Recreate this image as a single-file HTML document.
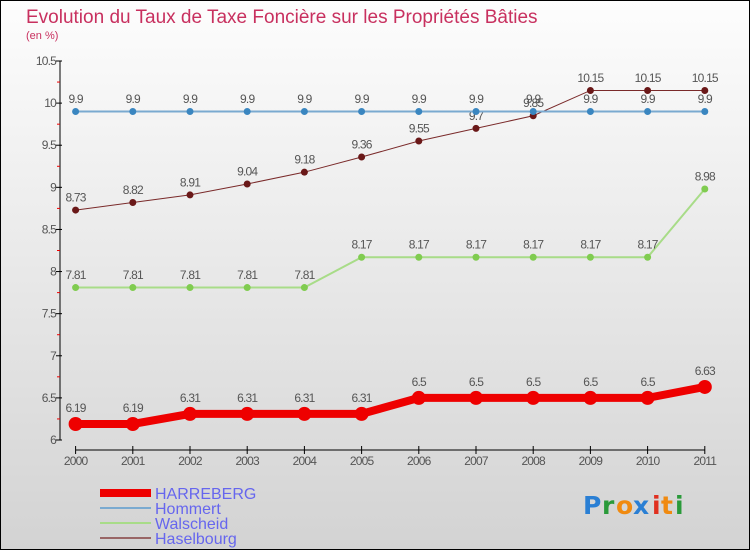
<!DOCTYPE html>
<html><head><meta charset="utf-8"><style>
body{margin:0;}
#wrap{width:750px;height:550px;position:relative;overflow:hidden;box-sizing:border-box;border:1px solid #000;background:linear-gradient(#fdfdfd,#d3d3d3);font-family:"Liberation Sans",sans-serif;}
</style></head><body>
<div id="wrap">
<svg id="svg" width="750" height="550" style="position:absolute;left:-1px;top:-1px;font-family:'Liberation Sans',sans-serif">
<text x="26" y="23" font-size="19" fill="#c8305f">Evolution du Taux de Taxe Foncière sur les Propriétés Bâties</text>
<text x="26" y="39" font-size="11" fill="#c8305f">(en %)</text>
<g id="axes"></g><g id="series"></g><g id="legend"></g>
<g font-size="25" font-weight="bold" font-family="'DejaVu Sans',sans-serif">
<text x="583" y="514" fill="#2a7fd4">P</text><text x="602" y="514" fill="#2a9a3a">r</text><text x="616" y="514" fill="#f08a10">o</text><text x="633" y="514" fill="#2a7fd4">x</text><text x="652" y="514" fill="#e03020">i</text><text x="661" y="514" fill="#f08a10">t</text><text x="675" y="514" fill="#2a9a3a">i</text>
</g>
</svg>
</div>
<script>
const years=[2000,2001,2002,2003,2004,2005,2006,2007,2008,2009,2010,2011];
const harreberg=[6.19,6.19,6.31,6.31,6.31,6.31,6.5,6.5,6.5,6.5,6.5,6.63];
const hommert=[9.9,9.9,9.9,9.9,9.9,9.9,9.9,9.9,9.9,9.9,9.9,9.9];
const walscheid=[7.81,7.81,7.81,7.81,7.81,8.17,8.17,8.17,8.17,8.17,8.17,8.98];
const haselbourg=[8.73,8.82,8.91,9.04,9.18,9.36,9.55,9.7,9.85,10.15,10.15,10.15];
const yTicks=[6,6.5,7,7.5,8,8.5,9,9.5,10,10.5];
const yTickLabels=["6","6.5","7","7.5","8","8.5","9","9.5","10","10.5"];
const NS="http://www.w3.org/2000/svg";
const X=i=>75.6+i*57.2;
const Y=v=>440-(v-6)*(379/4.5);
function mk(tag,attrs,parent,txt){const e=document.createElementNS(NS,tag);for(const k in attrs)e.setAttribute(k,attrs[k]);if(txt!==undefined)e.textContent=txt;parent.appendChild(e);return e;}
const axes=document.getElementById('axes');
let e=mk('line',{x1:60,y1:Y(10.5),x2:60,y2:Y(6),stroke:'#000','stroke-width':1},axes);


yTicks.forEach((v,i)=>{
 mk('line',{x1:56,x2:62,y1:Y(v),y2:Y(v),stroke:'#000'},axes);
 if(i<yTicks.length-1) mk('line',{x1:57,x2:60,y1:Y(v+0.25),y2:Y(v+0.25),stroke:'#e00'},axes);
 const t=mk('text',{x:56,y:Y(v)+4,'font-size':12,fill:'#555','text-anchor':'end','letter-spacing':'-0.8'},axes,yTickLabels[i]);
 
 
});
e=mk('line',{x1:X(0),y1:450,x2:X(11),y2:450,stroke:'#000','stroke-width':1},axes);


years.forEach((yr,i)=>{
 mk('line',{x1:X(i),x2:X(i),y1:446,y2:454,stroke:'#000'},axes);
 const t=mk('text',{x:X(i),y:465,'font-size':12,fill:'#555','text-anchor':'middle','letter-spacing':'-0.8'},axes,yr);
 
 
});
const series=[
 {name:'haselbourg',data:haselbourg,color:'#7a2a2a',dot:'#6a1818',w:1,r:3.5},
 {name:'walscheid',data:walscheid,color:'#a8dc88',dot:'#80cc50',w:2,r:3.5},
 {name:'hommert',data:hommert,color:'#7aaad0',dot:'#3a86c0',w:2,r:3.5},
 {name:'harreberg',data:harreberg,color:'#ee0000',dot:'#ee0000',w:8,r:7}
];
const sg=document.getElementById('series');
series.forEach(s=>{
 const g=mk('g',{},sg);
 
 
 const pl=mk('polyline',{points:s.data.map((v,i)=>X(i)+','+Y(v)).join(' '),fill:'none',stroke:s.color,'stroke-width':s.w},g);
 
 
 s.data.forEach((v,i)=>{
  const c=mk('circle',{cx:X(i),cy:Y(v),r:s.r,fill:s.dot},g);
  
  
  const t=mk('text',{x:X(i),y:Y(v)-(s.r+5),'font-size':12,fill:'#555','text-anchor':'middle','letter-spacing':'-0.8'},g,String(v));
  
  
 });
});
const lg=document.getElementById('legend');
const legendNames=['HARREBERG','Hommert','Walscheid','Haselbourg'];
const legendColors=['#ee0000','#7aaad0','#a8dc88','#996666'];
const legendWidths=[8,2,2,2];
legendNames.forEach((n,i)=>{
 const y=493+i*15;
 const g=mk('g',{},lg);
 
 
 mk('line',{x1:100,x2:151,y1:y,y2:y,stroke:legendColors[i],'stroke-width':legendWidths[i]},g);
 mk('text',{x:155,y:y+6,'font-size':16,fill:'#6666ee'},g,n);
});
</script>
</body></html>
